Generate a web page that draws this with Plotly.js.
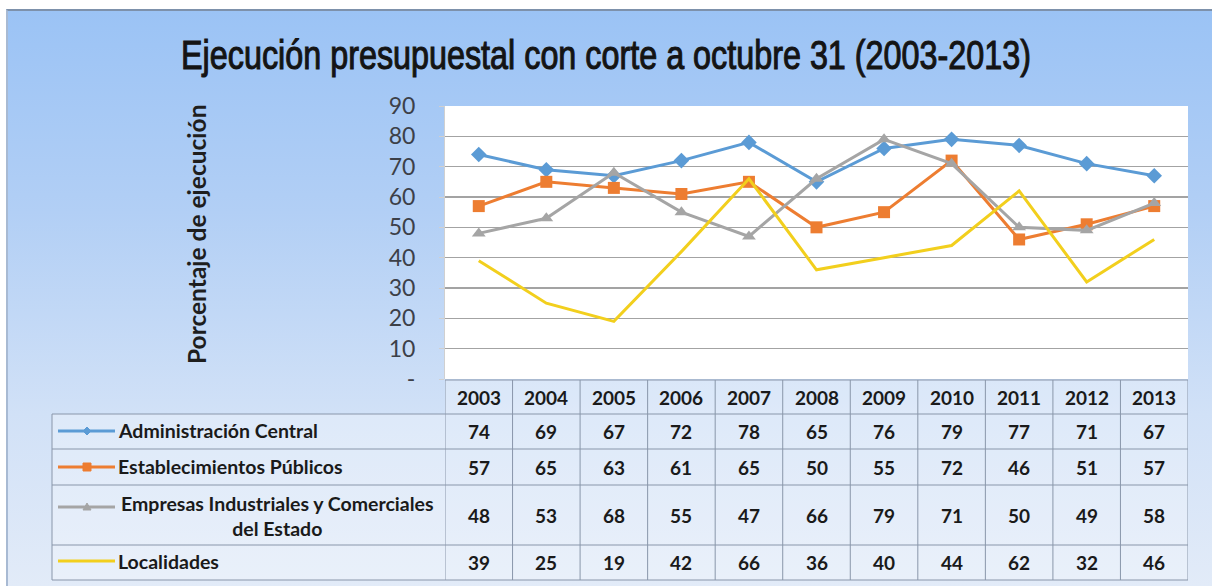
<!DOCTYPE html>
<html>
<head>
<meta charset="utf-8">
<script src="https://cdn.plot.ly/plotly-3.0.1.min.js"></script>
<style>
  html, body { margin: 0; padding: 0; background: #ffffff; }
  #wrap { position: relative; width: 1212px; height: 588px; overflow: hidden; }
  #frame {
    position: absolute; left: 6px; top: 9px; width: 1206px; height: 577px;
    background: linear-gradient(to bottom, #9bc3f5 0%, #b2cff5 35%, #d1e1f7 70%, #e2ebf8 100%);
    border-top: 2px solid #7d91ab; border-left: 2px solid #a8bad3; box-sizing: border-box;
  }
  #chart { position: absolute; left: 0; top: 0; width: 1212px; height: 588px; }
</style>
</head>
<body>
<div id="wrap">
  <div id="frame"></div>
  <div id="chart"></div>
</div>
<script>
// ---- Data ----
const years = ["2003","2004","2005","2006","2007","2008","2009","2010","2011","2012","2013"];
const seriesNames = ["Administración Central", "Establecimientos Públicos", "Empresas Industriales y Comerciales<br>del Estado", "Localidades"];
const adminCentral = [74, 69, 67, 72, 78, 65, 76, 79, 77, 71, 67];
const establecimientos = [57, 65, 63, 61, 65, 50, 55, 72, 46, 51, 57];
const empresas = [48, 53, 68, 55, 47, 66, 79, 71, 50, 49, 58];
const localidades = [39, 25, 19, 42, 66, 36, 40, 44, 62, 32, 46];
const yTickVals = [0, 10, 20, 30, 40, 50, 60, 70, 80, 90];
const yTickText = ["-", "10", "20", "30", "40", "50", "60", "70", "80", "90"];

// ---- Styles ----
const colors = ["#5b9bd5", "#ed7d31", "#a5a5a5", "#f2cf1d"];
const symbols = ["diamond", "square", "triangle-up", null];
const allSeries = [adminCentral, establecimientos, empresas, localidades];

const W = 1212, H = 588;
const px = v => v / W;
const py = v => 1 - v / H;

const traces = allSeries.map((vals, i) => {
  const t = {
    type: "scatter",
    mode: symbols[i] ? "lines+markers" : "lines",
    x: years, y: vals,
    name: seriesNames[i],
    line: { color: colors[i], width: 3 },
    showlegend: false,
    hoverinfo: "x+y"
  };
  if (symbols[i]) t.marker = { symbol: symbols[i], size: 12, color: colors[i] };
  return t;
});

// Table geometry (pixel rows)
const headerTop = 380, rowBounds = [414, 449, 485, 545, 580];
const legendLeft = 52;
const rowCenters = [431.5, 467, 515, 562];
const tableFont = { family: "Lato, 'Open Sans', sans-serif", size: 19.5, color: "#1a1a1a", weight: "bold" };
const numFont = { family: "Lato, 'Open Sans', sans-serif", size: 19, color: "#1a1a1a", weight: "bold" };
const borderCol = "#8996aa";

const shapes = [];
const annotations = [];

// cell fills
shapes.push({ type: "rect", xref: "x", yref: "paper", x0: -0.5, x1: years.length - 0.5,
  y0: py(rowBounds[0]), y1: py(headerTop), fillcolor: "rgba(255,255,255,0.28)", line: { width: 0 }, layer: "below" });
shapes.push({ type: "rect", xref: "paper", yref: "paper", x0: px(legendLeft), x1: px(1188),
  y0: py(rowBounds[4]), y1: py(rowBounds[0]), fillcolor: "rgba(255,255,255,0.28)", line: { width: 0 }, layer: "below" });

// horizontal lines
shapes.push({ type: "line", xref: "x", yref: "paper", x0: -0.5, x1: years.length - 0.5,
  y0: py(headerTop), y1: py(headerTop), line: { color: borderCol, width: 1 } });
rowBounds.forEach(r => {
  shapes.push({ type: "line", xref: "paper", yref: "paper", x0: px(legendLeft), x1: px(1188),
    y0: py(r), y1: py(r), line: { color: borderCol, width: 1 } });
});
// vertical lines
shapes.push({ type: "line", xref: "paper", yref: "paper", x0: px(legendLeft), x1: px(legendLeft),
  y0: py(rowBounds[0]), y1: py(rowBounds[4]), line: { color: borderCol, width: 1 } });
for (let k = 0; k <= years.length; k++) {
  shapes.push({ type: "line", xref: "x", yref: "paper", x0: k - 0.5, x1: k - 0.5,
    y0: py(headerTop), y1: py(rowBounds[4]), line: { color: borderCol, width: 1 } });
}

// header years (x given as category index)
years.forEach((yr, j) => {
  annotations.push({ xref: "x", yref: "paper", x: j, y: py(397), text: yr, showarrow: false,
    font: numFont, xanchor: "center", yanchor: "middle" });
});
// values
allSeries.forEach((vals, i) => {
  vals.forEach((v, j) => {
    annotations.push({ xref: "x", yref: "paper", x: j, y: py(rowCenters[i]), text: String(v), showarrow: false,
      font: numFont, xanchor: "center", yanchor: "middle" });
  });
});
// legend labels
seriesNames.forEach((nm, i) => {
  const multi = nm.indexOf("<br>") >= 0;
  annotations.push({ xref: "paper", yref: "paper",
    x: multi ? px(277) : px(116), y: py(rowCenters[i] - (multi ? -1 : 1)),
    text: nm, showarrow: false, align: "center",
    font: tableFont,
    xanchor: multi ? "center" : "left", yanchor: "middle" });
});
// legend samples
const sampleY = [431, 467, 507, 561];
sampleY.forEach((sy, i) => {
  shapes.push({ type: "line", xref: "paper", yref: "paper", x0: px(58), x1: px(115), y0: py(sy), y1: py(sy),
    line: { color: colors[i], width: 3 } });
  const cx = 87;
  if (i === 0) {
    shapes.push({ type: "path", xref: "paper", yref: "paper",
      path: `M ${px(cx-4)} ${py(sy)} L ${px(cx)} ${py(sy-4)} L ${px(cx+4)} ${py(sy)} L ${px(cx)} ${py(sy+4)} Z`,
      fillcolor: colors[i], line: { color: colors[i], width: 1 } });
  } else if (i === 1) {
    shapes.push({ type: "rect", xref: "paper", yref: "paper", x0: px(cx-4), x1: px(cx+4), y0: py(sy+4), y1: py(sy-4),
      fillcolor: colors[i], line: { color: colors[i], width: 1 } });
  } else if (i === 2) {
    shapes.push({ type: "path", xref: "paper", yref: "paper",
      path: `M ${px(cx-4)} ${py(sy+3)} L ${px(cx)} ${py(sy-4)} L ${px(cx+4)} ${py(sy+3)} Z`,
      fillcolor: colors[i], line: { color: colors[i], width: 1 } });
  }
});

// y-axis title
annotations.push({ xref: "paper", yref: "paper", x: px(197), y: py(235), text: "Porcentaje de ejecución",
  textangle: -90, showarrow: false, font: { family: "Lato, 'Open Sans', sans-serif", size: 24.5, color: "#1e1e1e", weight: "bold" },
  xanchor: "center", yanchor: "middle" });

const layout = {
  width: W, height: H,
  margin: { l: 0, r: 0, t: 0, b: 0 },
  paper_bgcolor: "rgba(0,0,0,0)",
  plot_bgcolor: "#ffffff",
  title: { text: "Ejecución presupuestal con corte a octubre 31 (2003-2013)",
    font: { family: "'Liberation Sans', Arial, sans-serif", size: 40, color: "#141414" },
    x: 0.5, xanchor: "center", y: py(55), yanchor: "middle", yref: "paper" },
  xaxis: { type: "category", domain: [px(445), px(1188)], range: [-0.5, years.length - 0.5],
    showticklabels: false, showgrid: false, zeroline: false, showline: false, fixedrange: true },
  yaxis: { domain: [py(379), py(106)], range: [0, 90], tickvals: yTickVals, ticktext: yTickText,
    tickfont: { family: "Lato, 'Open Sans', sans-serif", size: 23, color: "#3c4048" },
    gridcolor: "#a3a3a3", gridwidth: 1.3, zeroline: false,
    showline: true, linecolor: "#d0d0d0", linewidth: 1, ticks: "outside", ticklen: 5, tickcolor: "#d0d0d0",
    ticklabelstandoff: 19, fixedrange: true },
  shapes: shapes,
  annotations: annotations,
  showlegend: false
};

Plotly.newPlot("chart", traces, layout, { displayModeBar: false, staticPlot: true }).then(gd => {
  // condense the title horizontally (narrow typeface look), keeping it centred
  const t = gd.querySelector(".gtitle");
  if (t) {
    const bb = t.getBBox();
    const target = 850;
    const s = Math.min(1, target / bb.width);
    const cx = bb.x + bb.width / 2;
    t.setAttribute("transform", `translate(${cx},0) scale(${s},1) translate(${-cx},0)`);
    t.style.stroke = "#141414";
    t.style.strokeWidth = "1.1px";
  }
});
</script>
</body>
</html>
